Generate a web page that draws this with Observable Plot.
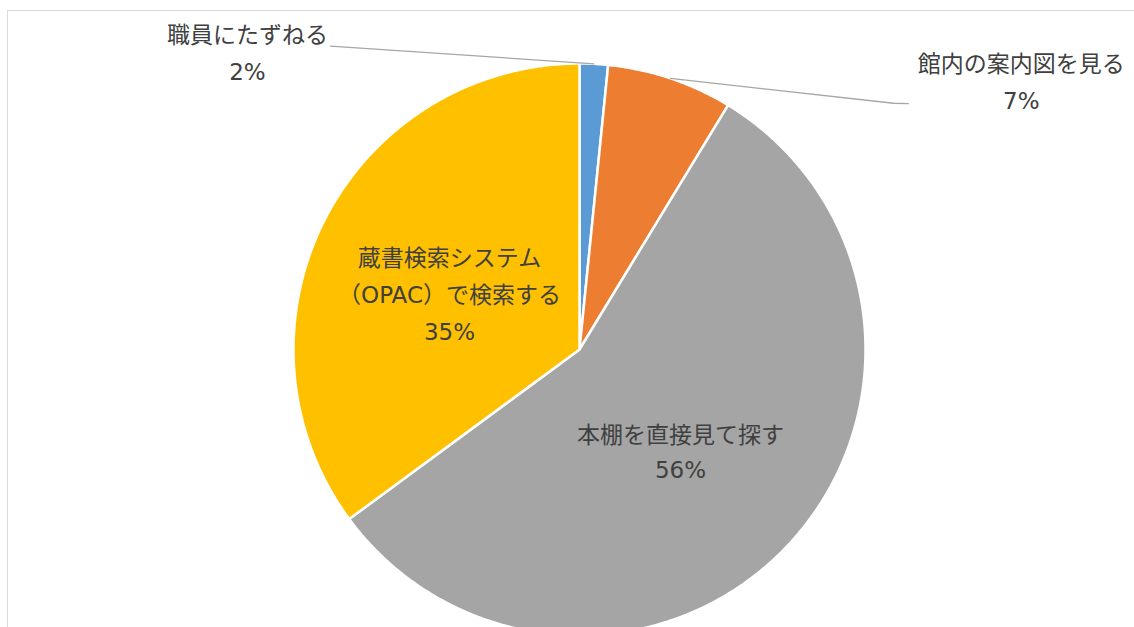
<!DOCTYPE html>
<html><head><meta charset="utf-8">
<script src="https://cdn.jsdelivr.net/npm/d3@7"></script>
<script src="https://cdn.jsdelivr.net/npm/@observablehq/plot@0.6"></script>
<style>
body{margin:0;background:#fff;}
#wrap{position:relative;width:1134px;height:627px;overflow:hidden;}
#wrap svg{position:absolute;left:0;top:0;}
#border{position:absolute;left:7px;top:10px;width:2000px;height:2000px;border-left:1.5px solid #d9d9d9;border-top:1.5px solid #d9d9d9;pointer-events:none;}
</style></head><body><div id="wrap"><div id="border"></div></div>
<script>
// ---- data ----
const categories = ["職員にたずねる", "館内の案内図を見る", "本棚を直接見て探す", "蔵書検索システム\n（OPAC）で検索する"];
const values = [1.6, 7.1, 56.2, 35.1];
const colors = ["#5B9BD5", "#ED7D31", "#A5A5A5", "#FFC000"];

// ---- label layout (pie units, radius = 1) ----
const labelPos = [[-1.161, 1.035], [1.545, 0.932], [0.353, -0.364], [-0.4545, 0.19]];
const labelLineHeight = [1.63, 1.6, 1.48, 1.6];
const leaderFrom = [[[-0.871, 1.061]], [[1.150, 0.860], [1.098, 0.861]], null, null];

const total = d3.sum(values);
const arcs = d3.pie().sort(null)(values);
const font = "'DejaVu Sans', 'Noto Sans CJK JP', sans-serif";

const marks = [];
arcs.forEach((a, i) => {
  const pts = [[0, 0]];
  const n = Math.max(4, Math.ceil((a.endAngle - a.startAngle) / (Math.PI / 360)));
  for (let k = 0; k <= n; k++) {
    const t = a.startAngle + (a.endAngle - a.startAngle) * k / n;
    pts.push([Math.sin(t), Math.cos(t)]);
  }
  marks.push(Plot.line(pts, {x: d => d[0], y: d => d[1], curve: "linear-closed", fill: colors[i], stroke: "white", strokeWidth: 2.5}));
});

arcs.forEach((a, i) => {
  if (!leaderFrom[i]) return;
  const mid = (a.startAngle + a.endAngle) / 2;
  const pts = [...leaderFrom[i], [Math.sin(mid), Math.cos(mid)]];
  marks.push(Plot.line(pts, {x: d => d[0], y: d => d[1], stroke: "#a6a6a6", strokeWidth: 1.3}));
});

categories.forEach((c, i) => {
  const lab = [{x: labelPos[i][0], y: labelPos[i][1], text: c + "\n" + Math.round(values[i] / total * 100) + "%"}];
  marks.push(Plot.text(lab, {x: "x", y: "y", text: "text", dy: -4, fontSize: 23, fontWeight: 400, lineHeight: labelLineHeight[i], fill: "#404040", fontFamily: font}));
});

const chart = Plot.plot({
  width: 1134, height: 627,
  x: {domain: [-1, 1], range: [293, 865], axis: null},
  y: {domain: [-1, 1], range: [635, 63], axis: null},
  style: {fontFamily: font, background: "transparent"},
  marks
});
document.getElementById("wrap").appendChild(chart);
</script>
</body></html>
